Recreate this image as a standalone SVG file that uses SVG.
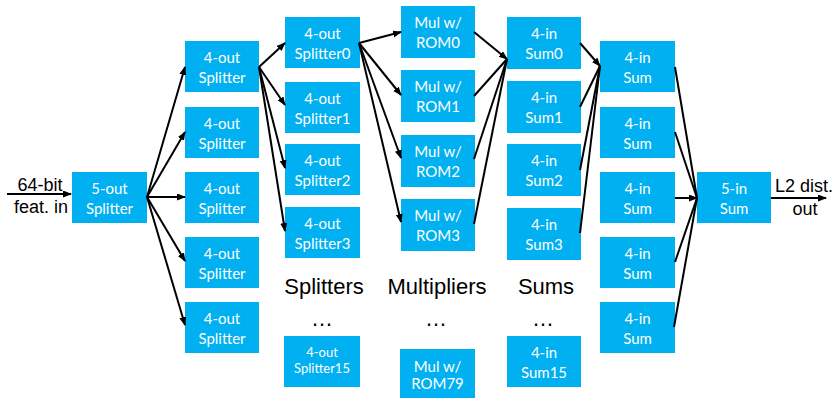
<svg xmlns="http://www.w3.org/2000/svg" width="838" height="398" viewBox="0 0 838 398">
<style>
.b{fill:#00B0F0}
.t{font-family:Lato,"Open Sans",sans-serif;font-size:15px;fill:#fff;text-anchor:middle}
.ts{font-family:Lato,"Open Sans",sans-serif;font-size:13px;fill:#fff;text-anchor:middle}
.l{font-family:"Liberation Sans",Arial,sans-serif;fill:#000}
.c line{stroke:#000;stroke-width:2}
</style>
<defs>
<marker id="a" markerUnits="userSpaceOnUse" markerWidth="10" markerHeight="8" refX="8" refY="3.5" orient="auto">
<path d="M0,0 L9,3.5 L0,7 z" fill="#000"/>
</marker>
</defs>
<rect width="838" height="398" fill="#fff"/>

<g id="in-label">
<text class="l" x="40" y="191" font-size="18" text-anchor="middle">64-bit</text>
<text class="l" x="41" y="213" font-size="18" text-anchor="middle">feat. in</text>
</g>
<g id="out-label">
<text class="l" x="804" y="192" font-size="18" text-anchor="middle">L2 dist.</text>
<text class="l" x="805" y="215" font-size="18" text-anchor="middle">out</text>
</g>
<g id="col-labels">
<text class="l" x="324" y="294" font-size="22" text-anchor="middle">Splitters</text>
<text class="l" x="437" y="294" font-size="22" text-anchor="middle">Multipliers</text>
<text class="l" x="546" y="294" font-size="22" text-anchor="middle">Sums</text>
<text class="l" x="322" y="326" font-size="22" text-anchor="middle">…</text>
<text class="l" x="436" y="326" font-size="22" text-anchor="middle">…</text>
<text class="l" x="543" y="326" font-size="22" text-anchor="middle">…</text>
</g>

<g id="split5"><rect class="b" x="72" y="172" width="75" height="51"/><text class="t" x="109.5" y="194">5-out</text><text class="t" x="109.5" y="213.5">Splitter</text></g>

<g id="s4a"><rect class="b" x="185" y="41" width="74" height="51"/><text class="t" x="222" y="63">4-out</text><text class="t" x="222" y="82.5">Splitter</text></g>
<g id="s4b"><rect class="b" x="185" y="107" width="74" height="51"/><text class="t" x="222" y="129">4-out</text><text class="t" x="222" y="148.5">Splitter</text></g>
<g id="s4c"><rect class="b" x="185" y="172" width="74" height="51"/><text class="t" x="222" y="194">4-out</text><text class="t" x="222" y="213.5">Splitter</text></g>
<g id="s4d"><rect class="b" x="185" y="237" width="74" height="51"/><text class="t" x="222" y="259">4-out</text><text class="t" x="222" y="278.5">Splitter</text></g>
<g id="s4e"><rect class="b" x="185" y="302" width="74" height="51"/><text class="t" x="222" y="324">4-out</text><text class="t" x="222" y="343.5">Splitter</text></g>

<g id="sp0"><rect class="b" x="285" y="17" width="75" height="51"/><text class="t" x="322.5" y="39">4-out</text><text class="t" x="322.5" y="58.5">Splitter0</text></g>
<g id="sp1"><rect class="b" x="285" y="82" width="75" height="51"/><text class="t" x="322.5" y="104">4-out</text><text class="t" x="322.5" y="123.5">Splitter1</text></g>
<g id="sp2"><rect class="b" x="285" y="144" width="75" height="51"/><text class="t" x="322.5" y="166">4-out</text><text class="t" x="322.5" y="185.5">Splitter2</text></g>
<g id="sp3"><rect class="b" x="285" y="207" width="75" height="51"/><text class="t" x="322.5" y="229">4-out</text><text class="t" x="322.5" y="248.5">Splitter3</text></g>
<g id="sp15"><rect class="b" x="284" y="336" width="76" height="51"/><text class="ts" x="322" y="357">4-out</text><text class="ts" x="322" y="373">Splitter15</text></g>

<g id="m0"><rect class="b" x="401" y="6" width="74" height="52"/><text class="t" x="438" y="28">Mul w/</text><text class="t" x="438" y="47.5">ROM0</text></g>
<g id="m1"><rect class="b" x="401" y="70" width="74" height="52"/><text class="t" x="438" y="92">Mul w/</text><text class="t" x="438" y="111.5">ROM1</text></g>
<g id="m2"><rect class="b" x="401" y="135" width="74" height="52"/><text class="t" x="438" y="157">Mul w/</text><text class="t" x="438" y="176.5">ROM2</text></g>
<g id="m3"><rect class="b" x="401" y="199" width="74" height="52"/><text class="t" x="438" y="221">Mul w/</text><text class="t" x="438" y="240.5">ROM3</text></g>
<g id="m79"><rect class="b" x="400" y="349" width="75" height="49"/><text class="t" x="437.5" y="372">Mul w/</text><text class="t" x="437.5" y="389">ROM79</text></g>

<g id="sum0"><rect class="b" x="507" y="17" width="74" height="52"/><text class="t" x="544" y="39">4-in</text><text class="t" x="544" y="58.5">Sum0</text></g>
<g id="sum1"><rect class="b" x="507" y="81" width="74" height="52"/><text class="t" x="544" y="103">4-in</text><text class="t" x="544" y="122.5">Sum1</text></g>
<g id="sum2"><rect class="b" x="507" y="144" width="74" height="52"/><text class="t" x="544" y="166">4-in</text><text class="t" x="544" y="185.5">Sum2</text></g>
<g id="sum3"><rect class="b" x="507" y="208" width="74" height="52"/><text class="t" x="544" y="230">4-in</text><text class="t" x="544" y="249.5">Sum3</text></g>
<g id="sum15"><rect class="b" x="507" y="336" width="74" height="51"/><text class="t" x="544" y="358">4-in</text><text class="t" x="544" y="377.5">Sum15</text></g>

<g id="fs1"><rect class="b" x="600" y="41" width="75" height="51"/><text class="t" x="637.5" y="63">4-in</text><text class="t" x="637.5" y="82.5">Sum</text></g>
<g id="fs2"><rect class="b" x="600" y="107" width="75" height="51"/><text class="t" x="637.5" y="129">4-in</text><text class="t" x="637.5" y="148.5">Sum</text></g>
<g id="fs3"><rect class="b" x="600" y="172" width="75" height="51"/><text class="t" x="637.5" y="194">4-in</text><text class="t" x="637.5" y="213.5">Sum</text></g>
<g id="fs4"><rect class="b" x="600" y="237" width="75" height="51"/><text class="t" x="637.5" y="259">4-in</text><text class="t" x="637.5" y="278.5">Sum</text></g>
<g id="fs5"><rect class="b" x="600" y="302" width="75" height="51"/><text class="t" x="637.5" y="324">4-in</text><text class="t" x="637.5" y="343.5">Sum</text></g>

<g id="sum5"><rect class="b" x="697" y="172" width="74" height="51"/><text class="t" x="734" y="194">5-in</text><text class="t" x="734" y="213.5">Sum</text></g>

<g id="connectors" class="c">
<line x1="7" y1="194" x2="71" y2="194" marker-end="url(#a)"/>
<line x1="147" y1="197" x2="185" y2="67" marker-end="url(#a)"/>
<line x1="147" y1="197" x2="185" y2="132" marker-end="url(#a)"/>
<line x1="147" y1="197" x2="185" y2="197" marker-end="url(#a)"/>
<line x1="147" y1="197" x2="185" y2="261" marker-end="url(#a)"/>
<line x1="147" y1="197" x2="185" y2="325" marker-end="url(#a)"/>

<line x1="259" y1="67" x2="285" y2="43" marker-end="url(#a)"/>
<line x1="259" y1="67" x2="285" y2="105" marker-end="url(#a)"/>
<line x1="259" y1="67" x2="285" y2="168" marker-end="url(#a)"/>
<line x1="259" y1="67" x2="285" y2="231" marker-end="url(#a)"/>

<line x1="359" y1="43" x2="401" y2="32" marker-end="url(#a)"/>
<line x1="359" y1="43" x2="401" y2="95" marker-end="url(#a)"/>
<line x1="359" y1="43" x2="401" y2="158" marker-end="url(#a)"/>
<line x1="359" y1="43" x2="401" y2="222" marker-end="url(#a)"/>

<line x1="474" y1="32" x2="507" y2="59" marker-end="url(#a)"/>
<line x1="474" y1="96" x2="507" y2="59"/>
<line x1="474" y1="159" x2="507" y2="59"/>
<line x1="474" y1="224" x2="507" y2="59"/>

<line x1="580" y1="43" x2="600" y2="66" marker-end="url(#a)"/>
<line x1="580" y1="107" x2="600" y2="66"/>
<line x1="580" y1="170" x2="600" y2="66"/>
<line x1="580" y1="233" x2="600" y2="66"/>

<line x1="675" y1="67" x2="697" y2="198"/>
<line x1="675" y1="132" x2="697" y2="198"/>
<line x1="675" y1="198" x2="697" y2="198" marker-end="url(#a)"/>
<line x1="675" y1="262" x2="697" y2="198"/>
<line x1="674" y1="327" x2="697" y2="198"/>

<line x1="771" y1="198" x2="826" y2="198" marker-end="url(#a)"/>
</g>
</svg>
